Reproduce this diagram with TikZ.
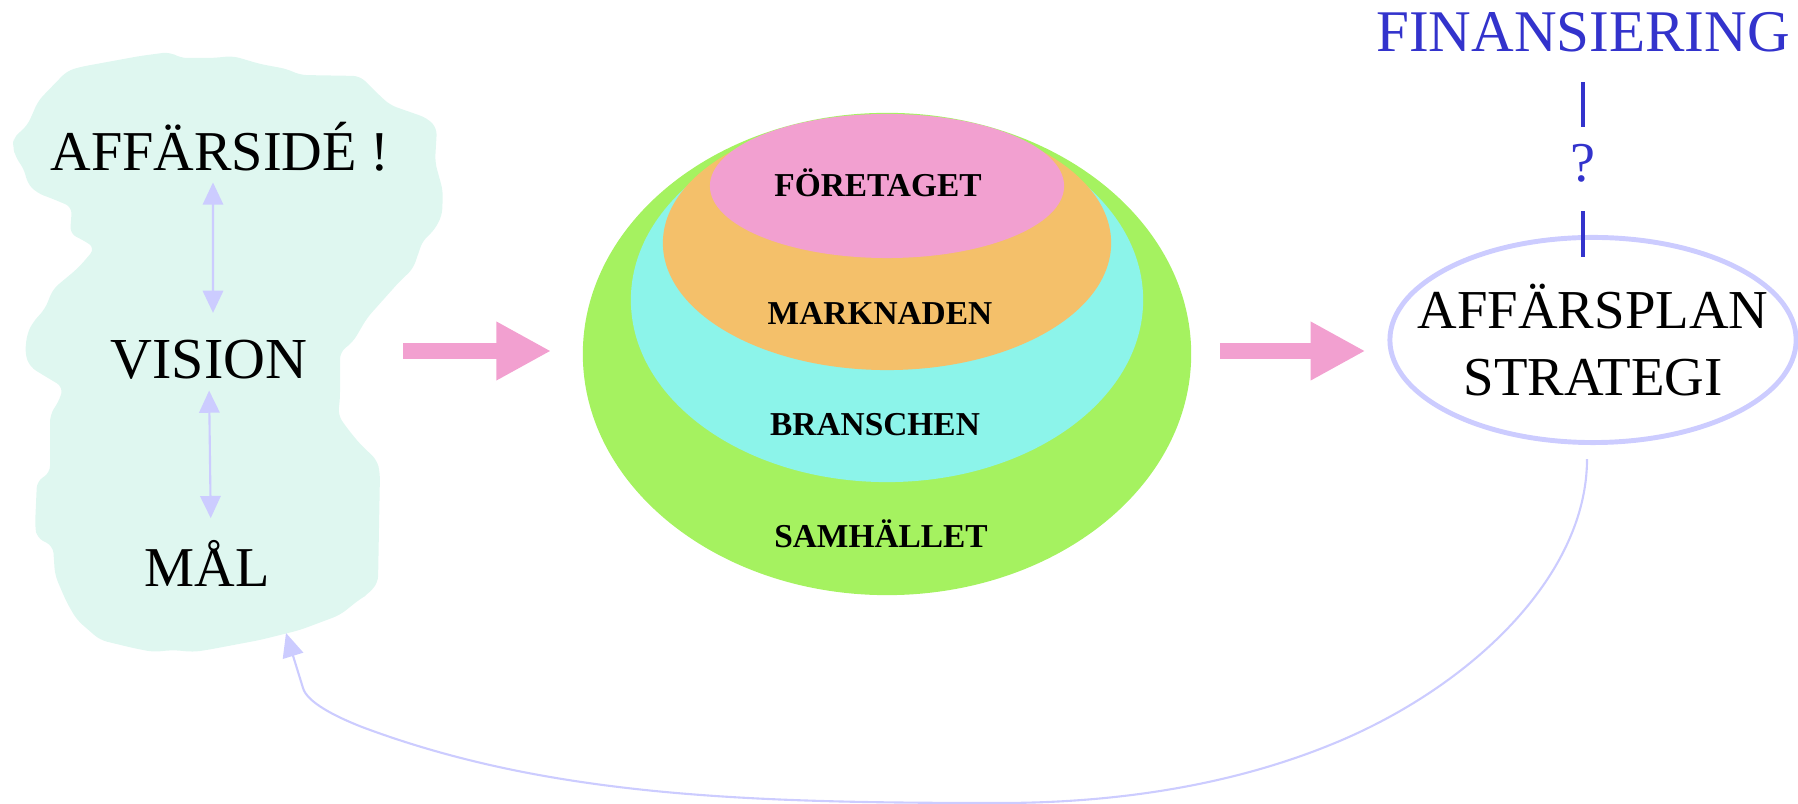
\documentclass[tikz,border=0pt]{standalone}
\usepackage{fontspec}
\setmainfont{Liberation Serif}
\usetikzlibrary{shapes.geometric,arrows.meta}
\definecolor{blobmint}{HTML}{DFF7F0}
\definecolor{samgreen}{HTML}{A5F260}
\definecolor{branschcyan}{HTML}{8CF4EA}
\definecolor{marknadorange}{HTML}{F4C06A}
\definecolor{foretagpink}{HTML}{F2A0D0}
\definecolor{lavender}{HTML}{CCCCFF}
\definecolor{finblue}{HTML}{3333CC}
\tikzset{
    big-label/.style = {font=\fontsize{16}{19.2}\selectfont, inner sep=0pt, anchor=base},
    ring-label/.style = {font=\fontsize{9.5}{11}\selectfont\bfseries, inner sep=0pt, anchor=base},
    layer/.style = {ellipse, inner sep=0pt},
    plan-ring/.style = {ellipse, draw=lavender, line width=1.4pt, inner sep=0pt},
    blob-arrow/.style = {draw=lavender, line width=0.6pt, {Triangle[length=6.3pt,width=5.8pt]}-{Triangle[length=6.3pt,width=5.8pt]}},
    fat-arrow/.style = {draw=foretagpink, line width=4.8pt, -{Triangle[length=15.6pt,width=15.6pt]}},
    fin-line/.style = {draw=finblue, line width=1.1pt},
    feedback-line/.style = {draw=lavender, line width=0.6pt, -{Triangle[length=6.8pt,width=6pt]}},
}

\begin{document}
\begin{tikzpicture}[x=0.01cm, y=-0.01cm]
\useasboundingbox (0,0) rectangle (1798,804);

\fill[blobmint, rounded corners=2pt] (13,138) -- (27,126) -- (33,113) -- (38,101) -- (67,71) -- (80,67) -- (140,56) -- (170,52) -- (180,58) -- (213,58) -- (233,56) -- (260,64) -- (287,69) -- (300,75) -- (360,76) -- (377,93) -- (390,105) -- (427,118) -- (437,128) -- (435,162) -- (443,191) -- (442,216) -- (433,232) -- (423,240) -- (413,269) -- (400,281) -- (367,318) -- (353,342) -- (340,352) -- (340,399) -- (338,415) -- (347,428) -- (360,444) -- (377,460) -- (380,473) -- (378,583) -- (367,595) -- (360,599) -- (340,615) -- (300,630) -- (260,640) -- (207,650) -- (193,652) -- (173,650) -- (153,652) -- (133,648) -- (100,640) -- (77,620) -- (67,603) -- (60,587) -- (55,575) -- (53,546) -- (37,538) -- (35,526) -- (37,481) -- (50,473) -- (50,415) -- (60,399) -- (63,387) -- (43,375) -- (30,367) -- (25,354) -- (27,334) -- (33,322) -- (45,309) -- (53,289) -- (77,269) -- (87,258) -- (95,248) -- (83,240) -- (70,234) -- (72,207) -- (53,199) -- (37,193) -- (27,183) -- (25,171) -- (15,156) -- (13,146) -- cycle;

\node[big-label] (idea) at (220,171) {AFFÄRSIDÉ !};
\node[big-label, font=\fontsize{16.5}{19.8}\selectfont] (vision) at (209,379) {VISION};
\node[big-label] (goal) at (207,587) {MÅL};
\coordinate (goal-tip) at (286,633);
\coordinate (idea-out) at (403,351);

\draw[blob-arrow, shorten <=0.1cm, shorten >=0.27cm] ([xshift=-0.07cm]idea.south) -- ([xshift=0.04cm]vision.north);
\draw[blob-arrow, shorten <=0.1cm, shorten >=0.22cm] (vision.south) -- ([xshift=0.04cm]goal.north);

\node[layer, fill=samgreen, minimum width=6.08cm, minimum height=4.82cm] (samhalle) at (887,354) {};
\node[layer, fill=branschcyan, minimum width=5.12cm, minimum height=3.64cm] (bransch) at (887,300) {};
\node[layer, fill=marknadorange, minimum width=4.48cm, minimum height=2.54cm] (marknad) at (887,243) {};
\node[layer, fill=foretagpink, minimum width=3.54cm, minimum height=1.44cm] (foretag) at (887,186) {};

\node[ring-label] (foretag-text) at (878,197) {FÖRETAGET};
\node[ring-label] (marknad-text) at (880,325) {MARKNADEN};
\node[ring-label] (bransch-text) at (875,436) {BRANSCHEN};
\node[ring-label] (samhalle-text) at (881,548) {SAMHÄLLET};

\node[plan-ring, minimum width=4.06cm, minimum height=2.05cm] (plan) at (1593,340) {};
\node[font=\fontsize{15.6}{19.2}\selectfont, align=center, inner sep=0pt] (plan-text) at (plan.center) {AFFÄRSPLAN\\STRATEGI};

\node[big-label, text=finblue, font=\fontsize{16.8}{20}\selectfont] (fin) at (1583,52) {FINANSIERING};
\node[big-label, text=finblue] (ask) at (1583,182) {?};
\draw[fin-line] ([yshift=-0.3cm]fin.base) -- ([yshift=-0.75cm]fin.base);
\draw[fin-line] ([yshift=-0.29cm]ask.base) -- ([yshift=-0.75cm]ask.base);

\draw[fat-arrow, shorten >=0.31cm] (idea-out) -- (idea-out -| samhalle.west);
\draw[fat-arrow, shorten <=0.28cm, shorten >=0.22cm] (samhalle.east |- idea-out) -- (idea-out -| plan.west);

\draw[feedback-line] ([xshift=-0.06cm, yshift=-0.14cm]plan.south) .. controls (1587,577) and (1469,689) .. (1330,745) .. controls (1219,790) and (1100,803) .. (1000,803) .. controls (750,803) and (549,797) .. (362,727) .. controls (334,716) and (307,702) .. (303,688) -- (goal-tip);
\end{tikzpicture}
\end{document}
